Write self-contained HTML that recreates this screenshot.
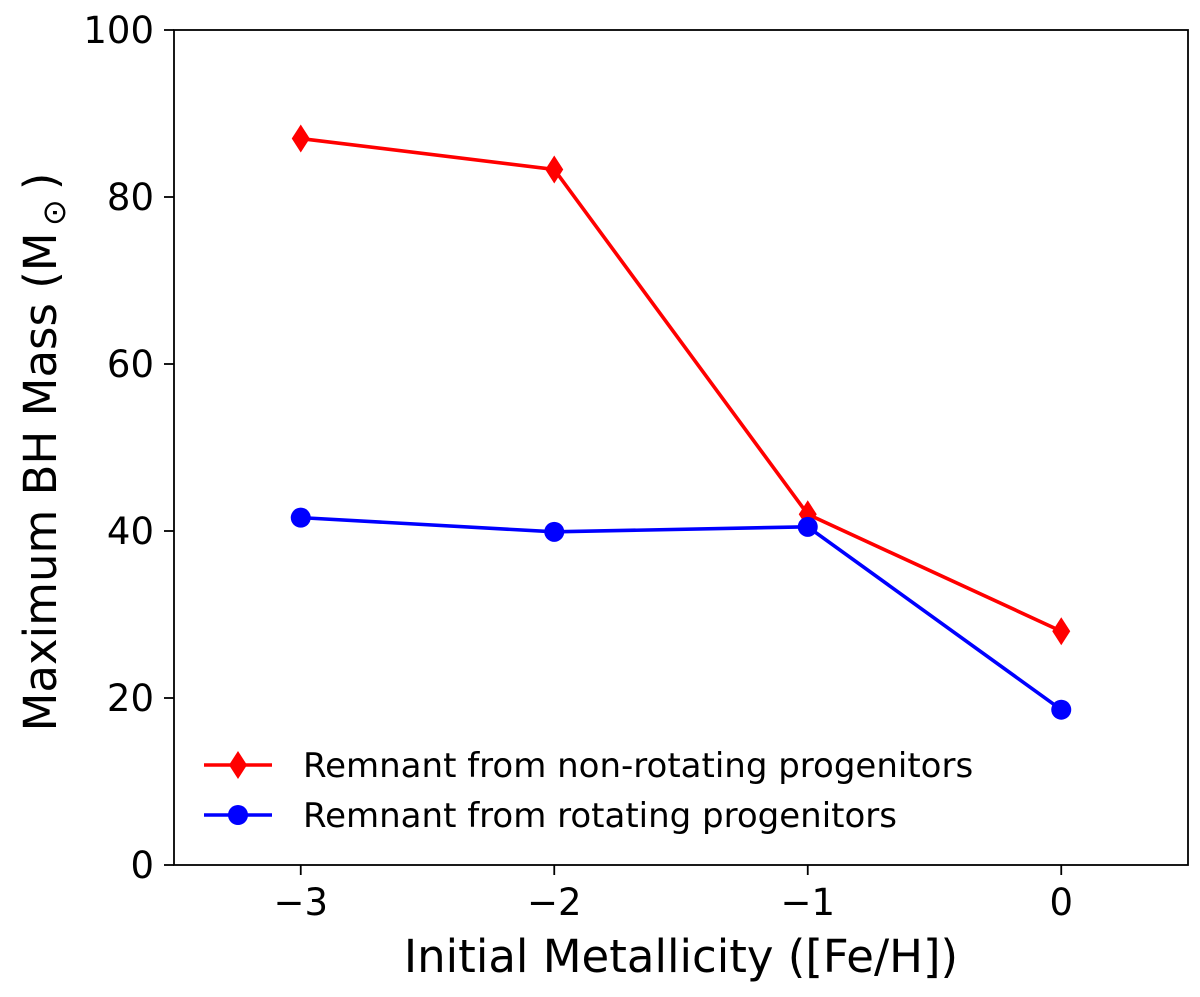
<!DOCTYPE html>
<html><head><meta charset="utf-8"><style>
body{margin:0;background:#fff;}
svg text{font-family:"DejaVu Sans","Liberation Sans",sans-serif;fill:#000;}
</style></head><body>
<svg id="chart" width="1200" height="992" xmlns="http://www.w3.org/2000/svg">
<g id="plot"></g>
</svg>
<script>
const xCats = [-3, -2, -1, 0];
const nonRotating = [87.0, 83.3, 42.0, 28.0];
const rotating = [41.6, 39.9, 40.5, 18.6];
const xTicks = [-3, -2, -1, 0];
const xTickLabels = ['\u22123', '\u22122', '\u22121', '0'];
const yTicks = [0, 20, 40, 60, 80, 100];

const L=174,R=1188,T=30,B=865;
const xS=v=>L+(v+3.5)/4*(R-L);
const yS=v=>B-v/100*(B-T);
const NS='http://www.w3.org/2000/svg';
const g=document.getElementById('plot');
function mk(tag,attrs,parent){const e=document.createElementNS(NS,tag);for(const k in attrs)e.setAttribute(k,attrs[k]);(parent||g).appendChild(e);return e;}

const frame=mk('rect',{x:L,y:T,width:R-L,height:B-T,fill:'none',stroke:'#000','stroke-width':1.8});



xTicks.forEach((v,i)=>{
  const t=mk('line',{x1:xS(v),x2:xS(v),y1:B,y2:B+10,stroke:'#000','stroke-width':1.8});
  
  
  const l=mk('text',{x:xS(v),y:B+50,'text-anchor':'middle','font-size':37});
  l.textContent=xTickLabels[i];
  
  
});
yTicks.forEach(v=>{
  const t=mk('line',{x1:L-10,x2:L,y1:yS(v),y2:yS(v),stroke:'#000','stroke-width':1.8});
  
  
  const l=mk('text',{x:L-20,y:yS(v)+13,'text-anchor':'end','font-size':37});
  l.textContent=v;
  
  
});

const xl=mk('text',{x:(L+R)/2,y:972,'text-anchor':'middle','font-size':45});
xl.textContent='Initial Metallicity ([Fe/H])';


const yl=mk('text',{x:0,y:0,'text-anchor':'middle','font-size':45,transform:'translate(56,452) rotate(-90)'});
yl.innerHTML='Maximum BH Mass (M<tspan font-size="32" dy="9">\u2009\u2299</tspan><tspan dy="-9">\u2009)</tspan>';



function diamond(x,y,c,parent){return mk('path',{d:`M${x},${y-14} L${x+9},${y} L${x},${y+14} L${x-9},${y} Z`,fill:c},parent);}
function circle(x,y,c,parent){return mk('circle',{cx:x,cy:y,r:10,fill:c},parent);}

function series(vals,color,marker,name){
  const s=mk('g',{});
  
  
  const pts=vals.map((v,i)=>xS(xCats[i])+','+yS(v)).join(' ');
  const pl=mk('polyline',{points:pts,fill:'none',stroke:color,'stroke-width':3.6},s);
  
  
  vals.forEach((v,i)=>{
    const m=marker(xS(xCats[i]),yS(v),color,s);
    
    
  });
}
series(nonRotating,'#ff0000',diamond,'non-rotating-series');
series(rotating,'#0000ff',circle,'rotating-series');

[['#ff0000',diamond,'Remnant from non-rotating progenitors',765,'legend-entry-non-rotating'],
 ['#0000ff',circle,'Remnant from rotating progenitors',815,'legend-entry-rotating']].forEach(e=>{
  const lg=mk('g',{});
  
  
  mk('line',{x1:204,x2:272,y1:e[3],y2:e[3],stroke:e[0],'stroke-width':3.6},lg);
  e[1](238,e[3],e[0],lg);
  const t=mk('text',{x:303,y:e[3]+12,'font-size':34},lg);
  t.textContent=e[2];
});
</script>
</body></html>
